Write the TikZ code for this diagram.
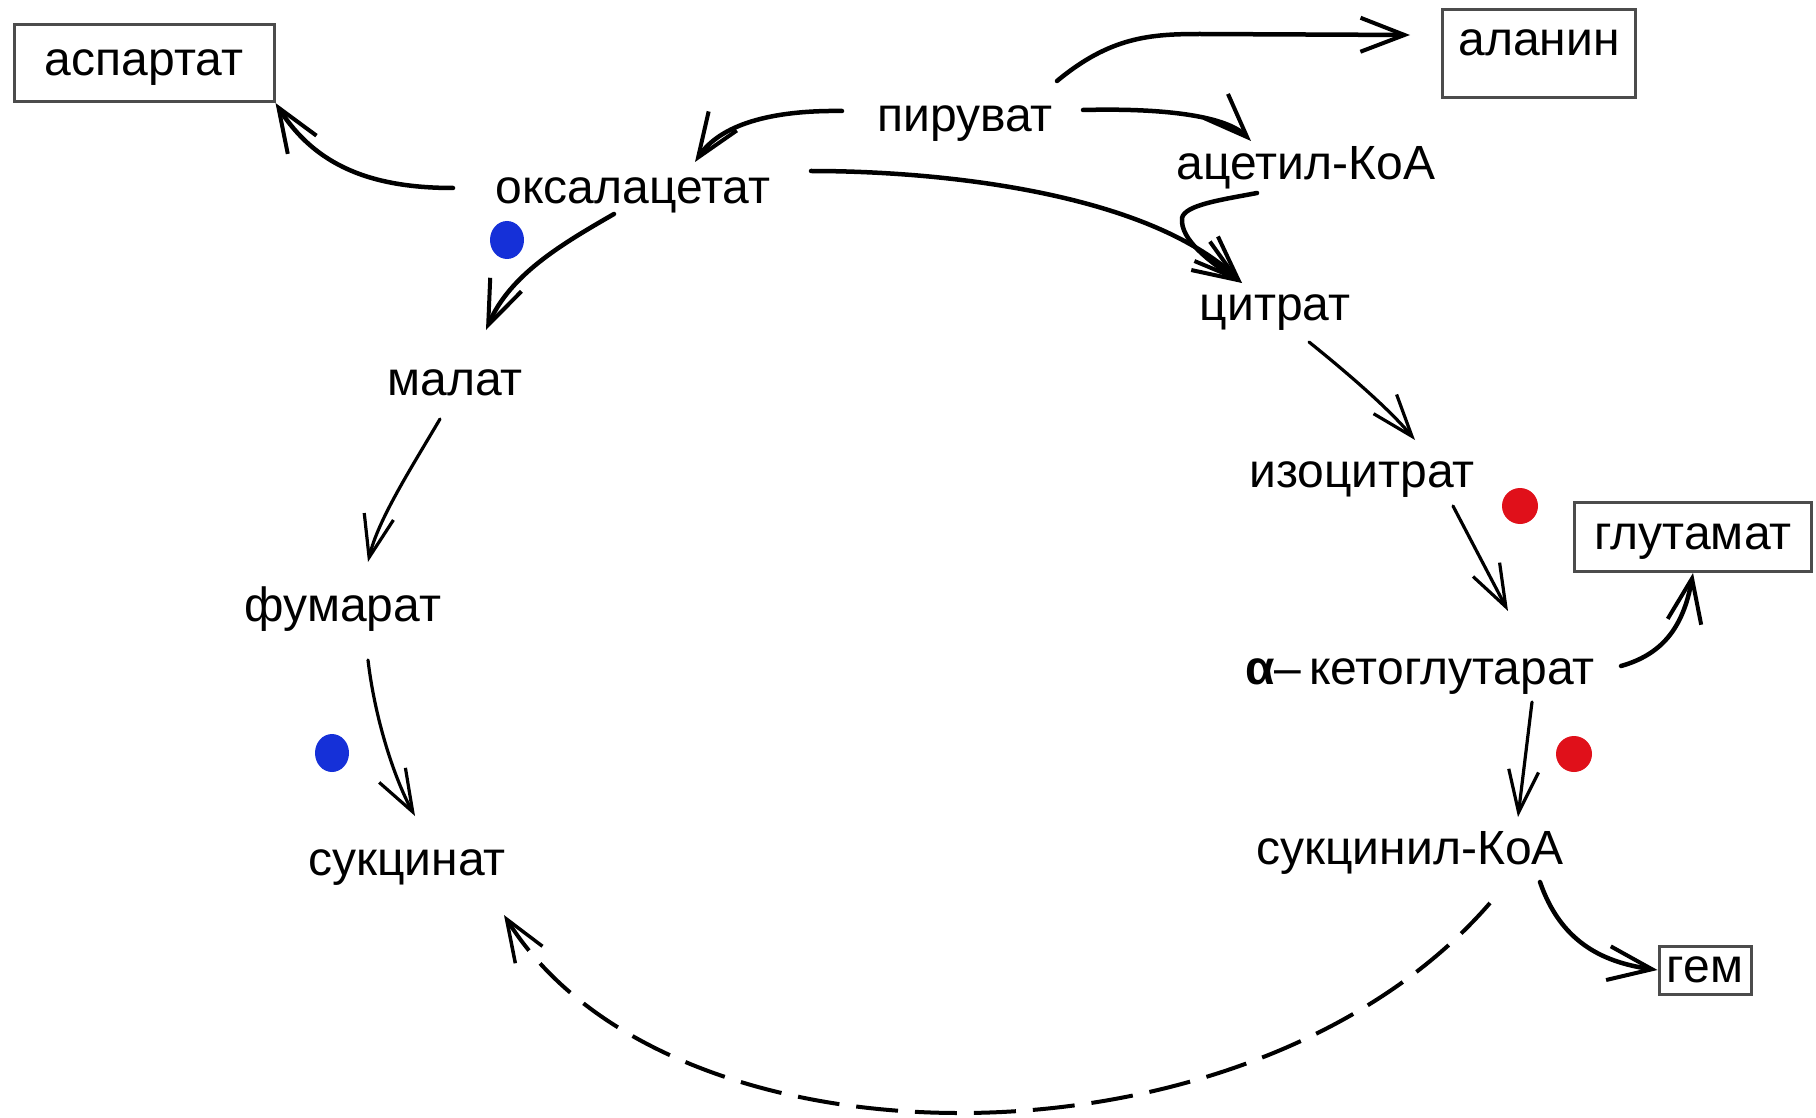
\documentclass[tikz,border=0pt]{standalone}
\usepackage{fontspec}
\setmainfont{Liberation Sans}
\usetikzlibrary{arrows.meta}
\definecolor{dotblue}{HTML}{1530D8}
\definecolor{dotred}{HTML}{E0101A}
\begin{document}
\begin{tikzpicture}[x=1pt,y=-1pt,
  lbl/.style={inner sep=0pt, text height=31pt, text depth=0pt, font=\fontsize{48}{56}\selectfont},
  box/.style={lbl, draw=black!70, line width=3pt},
  arr/.style={line width=4.5pt, line cap=round, -{Straight Barb[length=44pt,width=34pt,line width=4pt]}},
  tarr/.style={line width=3.2pt, line cap=round, -{Straight Barb[length=42pt,width=30pt,line width=3.2pt]}},
  dsh/.style={line width=4pt, dash pattern=on 42pt off 17pt, -{Straight Barb[length=42pt,width=32pt,line width=3.5pt]}},
]
\useasboundingbox[fill=white] (0,0) rectangle (1816,1118);

% boxed products
\node[box, minimum width=260pt, minimum height=77pt, text height=25pt] (asp) at (144,63) {аспартат};
\node[box, minimum width=193pt, minimum height=88pt, text height=25pt, text depth=22pt] (ala) at (1539,54) {аланин};
\node[box, minimum width=237pt, minimum height=69pt, text height=25pt] (glu) at (1693,537) {глутамат};
\node[box, minimum width=92pt, minimum height=48pt, text height=25pt] (hem) at (1705,970) {гем};

% cycle intermediates
\node[lbl] (pyr) at (965,116) {пируват};
\node[lbl] (oaa) at (633,188) {оксалацетат};
\node[lbl] (acoa) at (1306,164) {ацетил-КоА};
\node[lbl] (cit) at (1275,305) {цитрат};
\node[lbl] (icit) at (1362,472) {изоцитрат};
\node[lbl] (mal) at (455,380) {малат};
\node[lbl] (fum) at (343,606) {фумарат};
\node[lbl] (akg) at (1420,669) {\textbf{α}–\,кетоглутарат};
\node[lbl] (suc) at (407,860) {сукцинат};
\node[lbl] (scoa) at (1410,849) {сукцинил-КоА};

% points
\coordinate (pyrL) at (842,111);
\coordinate (pyrR) at (1083,110);
\coordinate (pyrT) at (1057,81);
\coordinate (alaIn) at (1410,35);
\coordinate (oaaL) at (453,188);
\coordinate (oaaR) at (811,171);
\coordinate (oaaB) at (614,214);
\coordinate (acoaB) at (1257,193);
\coordinate (citT) at (1242,283);
\coordinate (citB) at (1309,342);
\coordinate (icitT) at (1415,440);
\coordinate (icitB) at (1453,506);
\coordinate (akgT) at (1508,611);
\coordinate (akgR) at (1621,666);
\coordinate (akgB) at (1532,702);
\coordinate (scoaT) at (1518,817);
\coordinate (scoaR) at (1540,882);
\coordinate (scoaB) at (1490,903);
\coordinate (malT) at (486,330);
\coordinate (malB) at (440,419);
\coordinate (fumT) at (368,562);
\coordinate (fumB) at (368,660);
\coordinate (sucT) at (415,816);
\coordinate (sucB) at (504,915);

% connectors
\draw[arr] (oaaL) .. controls (370,188) and (315,165) .. (asp.south east);
\draw[arr] (pyrL) .. controls (770,110) and (720,125) .. (695,162);
\draw[arr] (pyrT) .. controls (1110,37) and (1150,34) .. (1200,34) -- (alaIn);
\draw[arr] (pyrR) .. controls (1160,108) and (1225,115) .. (1251,141);
\draw[arr] (oaaR) .. controls (950,171) and (1150,195) .. (citT);
\draw[arr] (acoaB) .. controls (1220,200) and (1185,205) .. (1182,218) .. controls (1180,240) and (1210,262) .. (citT);
\draw[tarr] (citB) .. controls (1350,375) and (1390,410) .. (icitT);
\draw[tarr] (icitB) -- (akgT);
\draw[arr] (akgR) .. controls (1660,655) and (1683,630) .. (glu.south);
\draw[tarr] (akgB) -- (scoaT);
\draw[arr] (scoaR) .. controls (1560,940) and (1600,962) .. (hem.west);
\draw[dsh] (scoaB) .. controls (1250,1180) and (670,1180) .. (sucB);
\draw[arr] (oaaB) .. controls (560,245) and (510,275) .. (malT);
\draw[tarr] (malB) .. controls (410,470) and (378,520) .. (fumT);
\draw[tarr] (fumB) .. controls (375,720) and (395,780) .. (sucT);

% enzyme marks
\fill[dotblue] (507,240) ellipse (17pt and 19pt);
\fill[dotblue] (332,753) ellipse (17pt and 19pt);
\fill[dotred] (1520,506) ellipse (18pt and 18pt);
\fill[dotred] (1574,754) ellipse (18pt and 18pt);
\end{tikzpicture}
\end{document}
